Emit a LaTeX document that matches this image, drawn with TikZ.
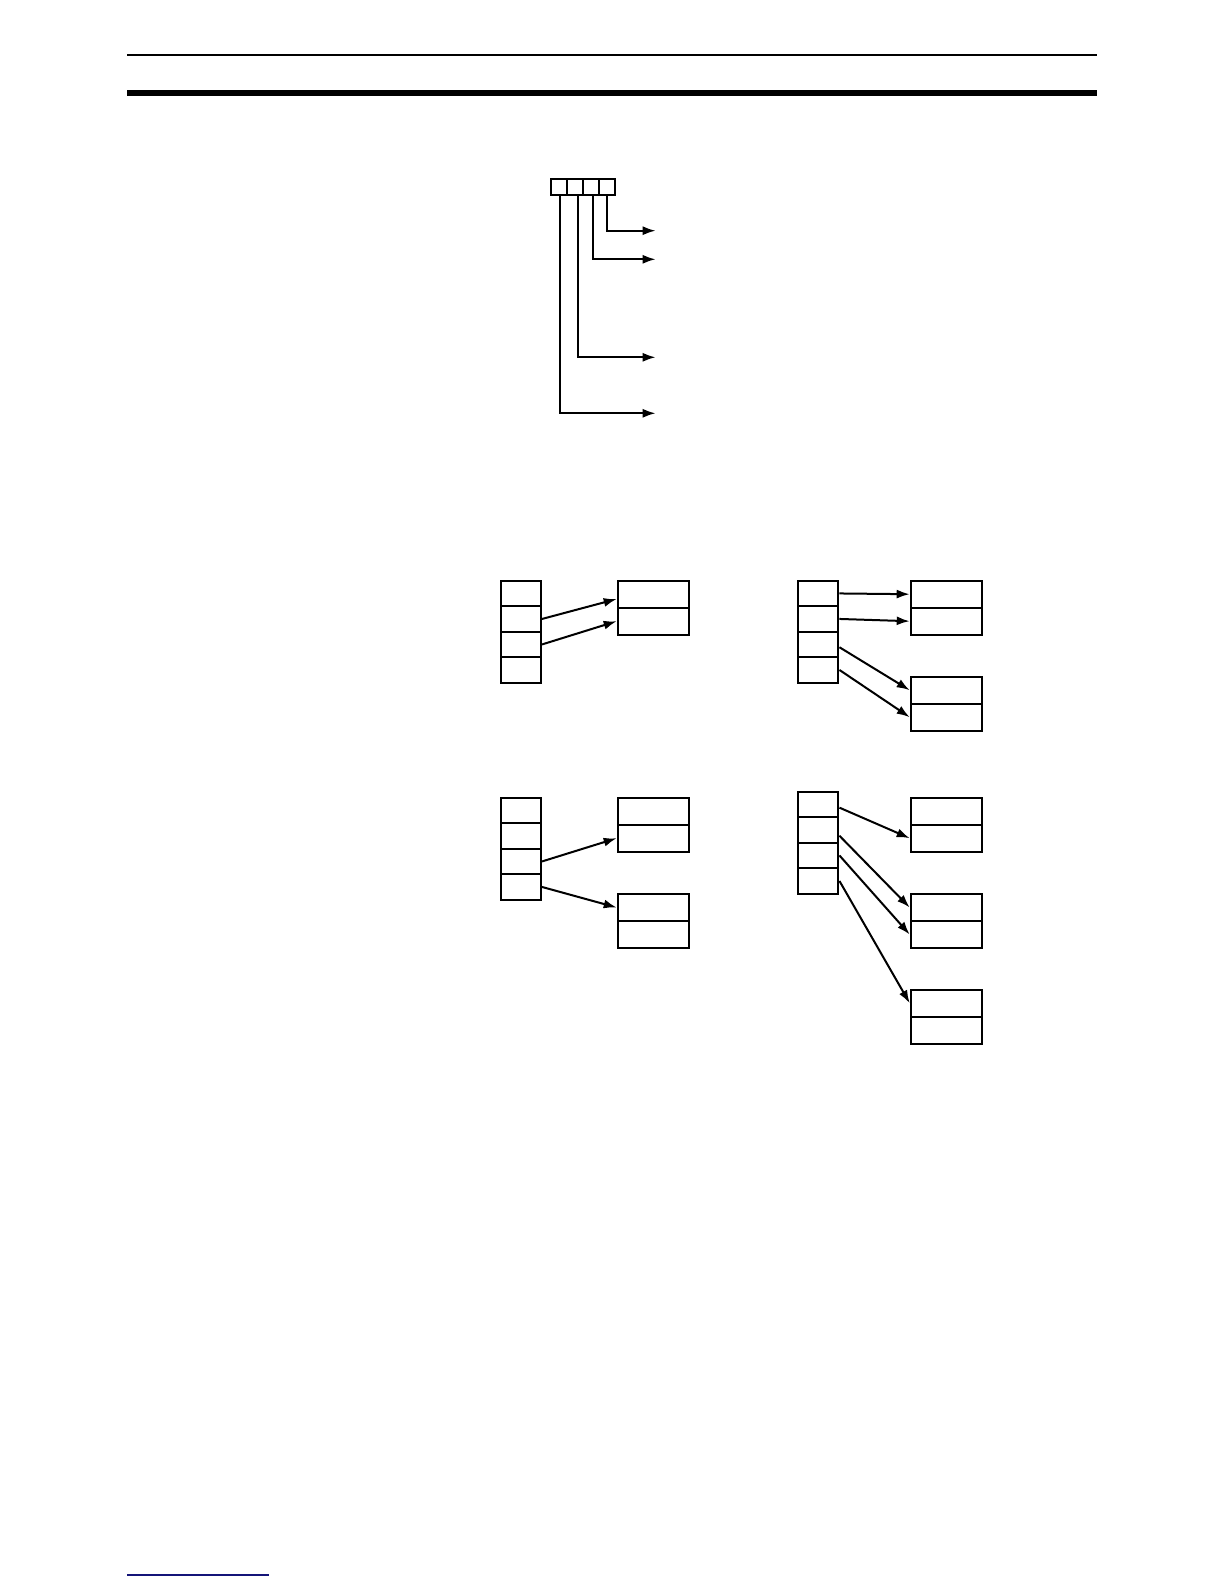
\documentclass[tikz,border=0pt]{standalone}
\usepackage{tikz}
\usetikzlibrary{arrows.meta,calc}
\definecolor{linkblue}{RGB}{20,20,120}
\tikzset{
	bitcell/.style={rectangle,draw=black,line width=1pt,inner sep=0,minimum width=8pt,minimum height=8pt},
	slot/.style={rectangle,draw=black,line width=1pt,inner sep=0,minimum width=20.15pt,minimum height=12.75pt},
	word/.style={rectangle,draw=black,line width=1pt,inner sep=0,minimum width=35.65pt,minimum height=13.5pt},
	dirline/.style={->,>={Latex[width=4.5pt,length=6.5pt]},color=black,line width=1pt},
	bitline/.style={->,>={Latex[width=4.5pt,length=6.5pt]},color=black,line width=1pt}
}
\begin{document}
\begin{tikzpicture}[x=0.5pt,y=-0.5pt]
	\useasboundingbox (0,0) rectangle (1224,1584);

	%%page rules
	\draw[line width=0.6pt] (127,55) -- (1097,55);
	\draw[line width=2.85pt] (127,92.8) -- (1097,92.8);
	\draw[linkblue,line width=0.6pt] (127,1575) -- (269,1575);

	%%4-digit row
	\node[bitcell] (r1) at (558.9,187) {};
	\node[bitcell] (r2) at (575,187) {};
	\node[bitcell] (r3) at (591,187) {};
	\node[bitcell] (r4) at (607,187) {};
	\coordinate (e4) at (655.7,230.7);
	\coordinate (e3) at (655.7,259.3);
	\coordinate (e2) at (655.7,357.3);
	\coordinate (e1) at (655.7,413.3);
	%digit lines
	\draw[bitline] (r4.south) |- (e4);
	\draw[bitline] ([xshift=1.15pt]r3.south) |- (e3);
	\draw[bitline] ([xshift=1.35pt]r2.south) |- (e2);
	\draw[bitline] ([xshift=0.55pt]r1.south) |- (e1);

	%%Group A: two words, one block
	\node[slot] (a1) at (520.85,593.45) {};
	\node[slot] (a2) at (520.85,618.95) {};
	\node[slot] (a3) at (520.85,644.45) {};
	\node[slot] (a4) at (520.85,669.95) {};
	\node[word] (p1) at (653.35,594.2) {};
	\node[word] (p2) at (653.35,621.2) {};

	%%Group B: four words, two blocks
	\node[slot] (b1) at (818.3,593.45) {};
	\node[slot] (b2) at (818.3,618.95) {};
	\node[slot] (b3) at (818.3,644.45) {};
	\node[slot] (b4) at (818.3,669.95) {};
	\node[word] (q1) at (946.35,594.2) {};
	\node[word] (q2) at (946.35,621.2) {};
	\node[word] (q3) at (946.35,690.2) {};
	\node[word] (q4) at (946.35,717.2) {};

	%%Group C: two words, two blocks
	\node[slot] (c1) at (520.85,810.45) {};
	\node[slot] (c2) at (520.85,835.95) {};
	\node[slot] (c3) at (520.85,861.45) {};
	\node[slot] (c4) at (520.85,886.95) {};
	\node[word] (s1) at (653.35,811.2) {};
	\node[word] (s2) at (653.35,838.2) {};
	\node[word] (s3) at (653.35,907.5) {};
	\node[word] (s4) at (653.35,934.5) {};

	%%Group D: four words, three blocks
	\node[slot] (d1) at (818.3,804.45) {};
	\node[slot] (d2) at (818.3,829.95) {};
	\node[slot] (d3) at (818.3,855.45) {};
	\node[slot] (d4) at (818.3,880.95) {};
	\node[word] (t1) at (946.35,811.2) {};
	\node[word] (t2) at (946.35,838.2) {};
	\node[word] (t3) at (946.35,907.5) {};
	\node[word] (t4) at (946.35,934.5) {};
	\node[word] (t5) at (946.35,1003.2) {};
	\node[word] (t6) at (946.35,1030.2) {};

	%%%%%% ARROWS

	%Group A
	\draw[dirline] (a2.east) -- ([yshift=-2.4pt]p1.west);
	\draw[dirline] (a3.east) -- (p2.west);

	%Group B
	\draw[dirline] (b1.east) -- (q1.west);
	\draw[dirline] (b2.east) -- (q2.west);
	\draw[dirline] ([yshift=-1.4pt]b3.east) -- (q3.west);
	\draw[dirline] (b4.east) -- (q4.west);

	%Group C
	\draw[dirline] (c3.east) -- (s2.west);
	\draw[dirline] (c4.east) -- (s3.west);

	%Group D
	\draw[dirline] ([yshift=-1.6pt]d1.east) -- (t2.west);
	\draw[dirline] ([yshift=-2.9pt]d2.east) -- (t3.west);
	\draw[dirline] (d3.east) -- (t4.west);
	\draw[dirline] (d4.east) -- (t5.west);

\end{tikzpicture}
\end{document}
